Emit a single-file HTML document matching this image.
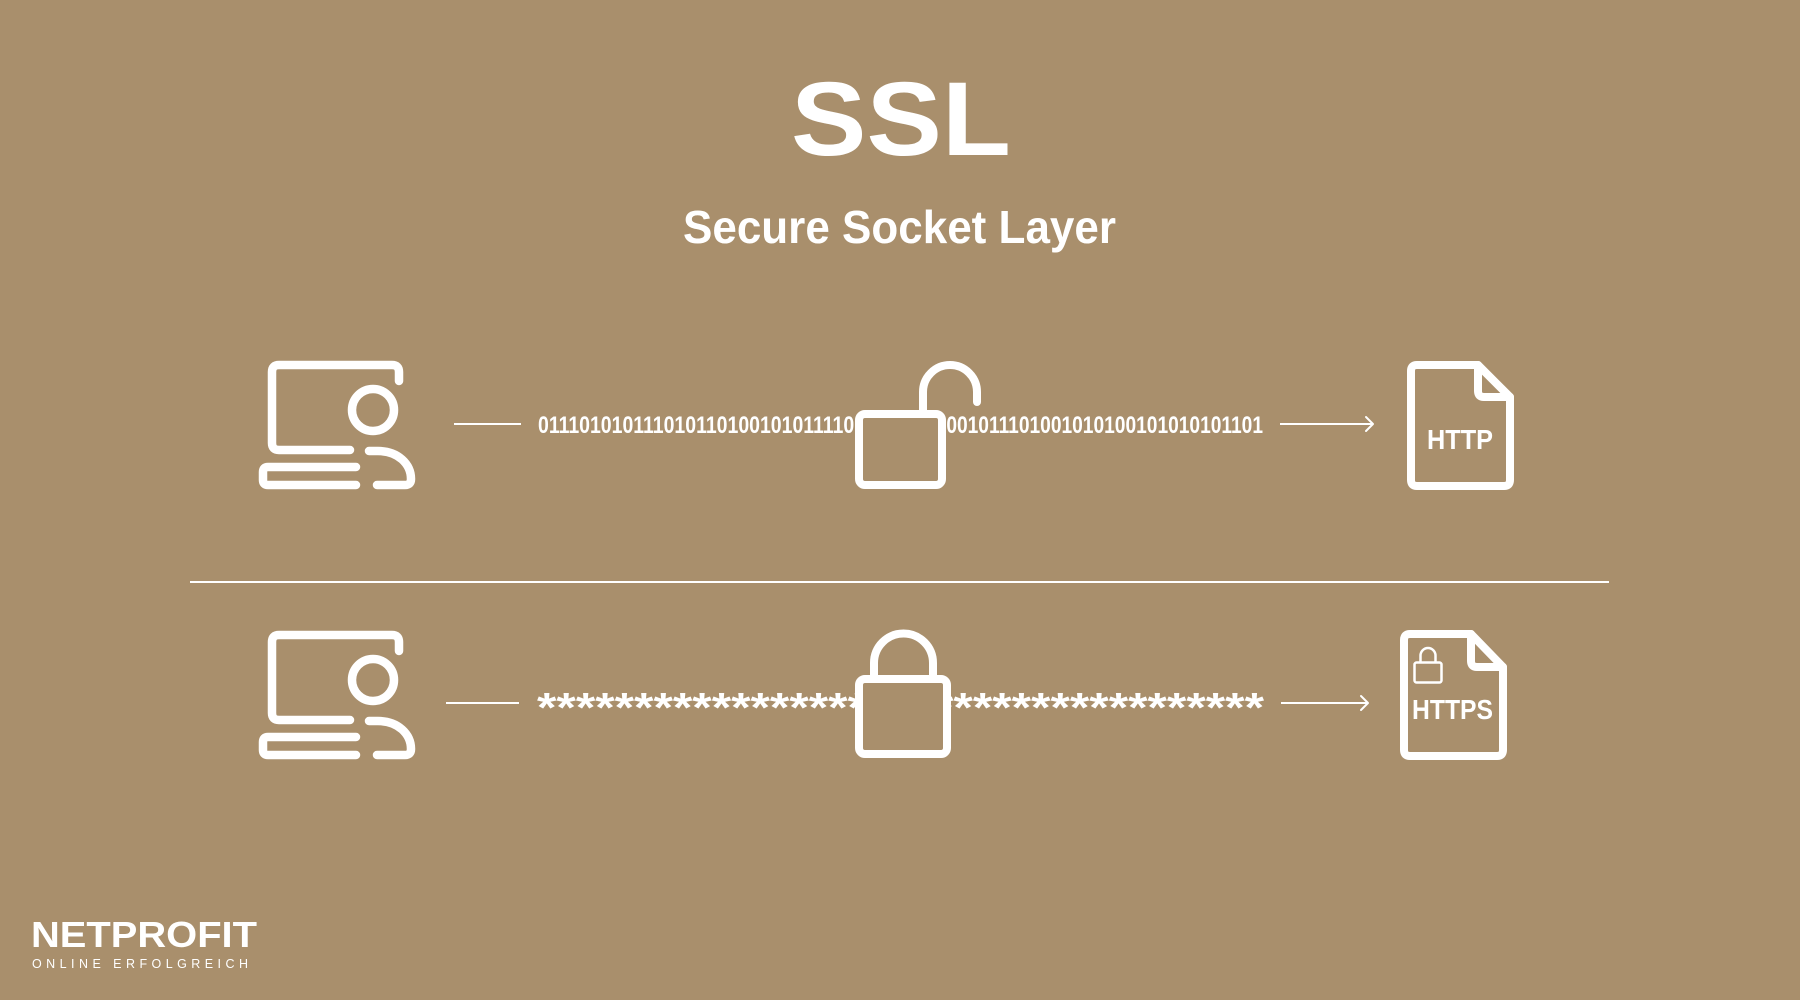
<!DOCTYPE html>
<html>
<head>
<meta charset="utf-8">
<style>
  html, body { margin: 0; padding: 0; }
  body { width: 1800px; height: 1000px; background: #a98f6c; overflow: hidden; }
  svg { display: block; }
  text { font-family: "Liberation Sans", "DejaVu Sans", sans-serif; font-weight: bold; fill: #ffffff; }
</style>
</head>
<body>
<svg width="1800" height="1000" viewBox="0 0 1800 1000" xmlns="http://www.w3.org/2000/svg">
  <rect x="0" y="0" width="1800" height="1000" fill="#a98f6c"/>

  <!-- Title -->
  <text x="791" y="155" font-size="105" textLength="220" lengthAdjust="spacingAndGlyphs">SSL</text>
  <text x="683" y="243" font-size="46" textLength="433" lengthAdjust="spacingAndGlyphs">Secure Socket Layer</text>

  <!-- ===== Row 1 ===== -->
  <g fill="none" stroke="#fff" stroke-width="8.5" stroke-linecap="round" stroke-linejoin="round">
    <path d="M350 450 H279 Q272 450 272 443 V372 Q272 365 279 365 H392 Q399 365 399 372 V381"/>
    <circle cx="373" cy="410" r="21"/>
    <path d="M369 451 H378 C398 451 411 464 411 479 Q411 485 405 485 H377"/>
    <path d="M356 467 H268 Q263 467 263 472 V480 Q263 485 268 485 H356"/>
  </g>
  <line x1="454" y1="424" x2="521" y2="424" stroke="#fff" stroke-width="2"/>

  <text x="538" y="433" font-size="24" textLength="327" lengthAdjust="spacingAndGlyphs">0111010101110101101001010111101</text>
  <text x="1263" y="433" font-size="24" text-anchor="end" textLength="338" lengthAdjust="spacingAndGlyphs">10001011101001010100101010101101</text>

  <!-- open lock -->
  <g stroke="#fff" stroke-width="8" stroke-linecap="round" stroke-linejoin="round">
    <path d="M923 412 V392 A27 27 0 0 1 977 392 V402" fill="none"/>
    <rect x="859" y="414" width="83" height="71" rx="6" fill="#a98f6c"/>
  </g>

  <line x1="1280" y1="424" x2="1372" y2="424" stroke="#fff" stroke-width="2"/>
  <path d="M1366 417 L1373 424 L1366 431" fill="none" stroke="#fff" stroke-width="2" stroke-linecap="round" stroke-linejoin="round"/>

  <!-- HTTP doc -->
  <g fill="none" stroke="#fff" stroke-width="8" stroke-linecap="round" stroke-linejoin="round">
    <path d="M1478 365 H1417 Q1411 365 1411 371 V480 Q1411 486 1417 486 H1504 Q1510 486 1510 480 V397 L1478 365 Z"/>
    <path d="M1478 365 V391 Q1478 397 1484 397 H1510"/>
  </g>
  <text x="1427" y="449" font-size="28" textLength="66" lengthAdjust="spacingAndGlyphs">HTTP</text>

  <!-- Divider -->
  <rect x="190" y="581" width="1419" height="2" fill="#fff"/>

  <!-- ===== Row 2 ===== -->
  <g transform="translate(0,270)" fill="none" stroke="#fff" stroke-width="8.5" stroke-linecap="round" stroke-linejoin="round">
    <path d="M350 450 H279 Q272 450 272 443 V372 Q272 365 279 365 H392 Q399 365 399 372 V381"/>
    <circle cx="373" cy="410" r="21"/>
    <path d="M369 451 H378 C398 451 411 464 411 479 Q411 485 405 485 H377"/>
    <path d="M356 467 H268 Q263 467 263 472 V480 Q263 485 268 485 H356"/>
  </g>
  <line x1="446" y1="703" x2="519" y2="703" stroke="#fff" stroke-width="2"/>

  <text x="537" y="722" font-size="42" textLength="330" lengthAdjust="spacingAndGlyphs">*****************</text>
  <text x="1264" y="722" font-size="42" text-anchor="end" textLength="330" lengthAdjust="spacingAndGlyphs">*****************</text>

  <!-- closed lock -->
  <g stroke="#fff" stroke-width="8" stroke-linecap="round" stroke-linejoin="round">
    <path d="M874 677 V663 A29.5 29.5 0 0 1 933 663 V677" fill="none"/>
    <rect x="859" y="679" width="88" height="75" rx="6" fill="#a98f6c"/>
  </g>

  <line x1="1281" y1="703" x2="1367" y2="703" stroke="#fff" stroke-width="2"/>
  <path d="M1361 696 L1368 703 L1361 710" fill="none" stroke="#fff" stroke-width="2" stroke-linecap="round" stroke-linejoin="round"/>

  <!-- HTTPS doc -->
  <g fill="none" stroke="#fff" stroke-width="8" stroke-linecap="round" stroke-linejoin="round">
    <path d="M1471 634 H1410 Q1404 634 1404 640 V750 Q1404 756 1410 756 H1497 Q1503 756 1503 750 V667 L1471 634 Z"/>
    <path d="M1471 634 V661 Q1471 667 1477 667 H1503"/>
  </g>
  <g fill="none" stroke="#fff" stroke-width="2.5" stroke-linejoin="round">
    <path d="M1420.5 662 V655.5 A7.5 7.5 0 0 1 1435.5 655.5 V662"/>
    <rect x="1414.5" y="662.5" width="27" height="20" rx="2"/>
  </g>
  <text x="1412" y="719" font-size="28" textLength="81" lengthAdjust="spacingAndGlyphs">HTTPS</text>

  <!-- Logo -->
  <text x="31" y="947" font-size="36" textLength="226" lengthAdjust="spacingAndGlyphs" style="font-weight:900">NETPROFIT</text>
  <text x="32" y="968" font-size="12.5" textLength="216" style="font-weight:normal">ONLINE ERFOLGREICH</text>
</svg>
</body>
</html>
